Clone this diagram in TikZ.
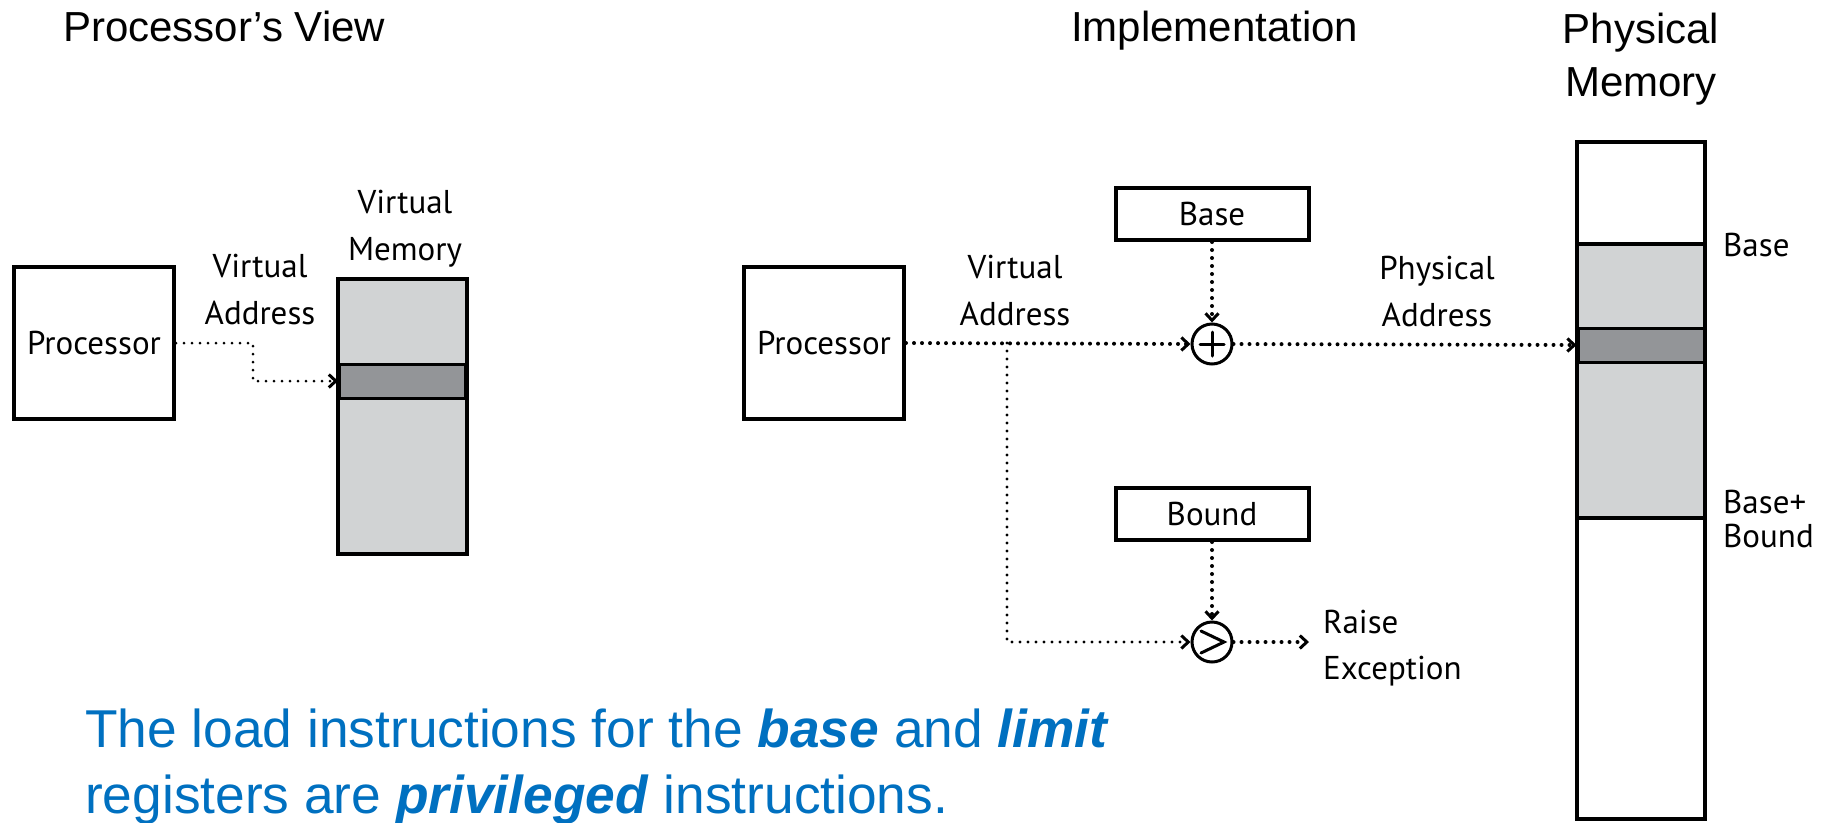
\documentclass[tikz,border=0pt]{standalone}
\usepackage{fontspec}
\setmainfont{PT Sans}
\newfontfamily\slidefont{Liberation Sans}
\usetikzlibrary{arrows.meta}
\usetikzlibrary{positioning}
\definecolor{memlight}{RGB}{209,211,212}
\definecolor{memdark}{RGB}{147,149,152}
\definecolor{slideblue}{RGB}{0,112,192}

\tikzset{
  unit/.style={draw, line width=4pt, minimum width=160pt, minimum height=152pt, inner sep=0pt, font=\fontsize{33}{46}\selectfont},
  reg/.style={draw, line width=4pt, minimum width=193pt, minimum height=52pt, inner sep=0pt, font=\fontsize{33}{46}\selectfont},
  slot/.style={draw, fill=memdark, line width=3pt, minimum width=126pt, minimum height=34pt, inner sep=0pt},
  op/.style={circle, draw, line width=3pt, minimum size=40pt, inner sep=0pt},
  sign/.style={line width=3pt, line cap=round},
  lbl/.style={align=center, inner sep=0pt, font=\fontsize{33}{47}\selectfont},
  side/.style={align=left, inner sep=0pt, font=\fontsize{33}{34}\selectfont},
  heading/.style={align=center, inner sep=0pt, font=\slidefont\fontsize{42}{53}\selectfont},
  flow/.style={line width=4pt, dash pattern=on 0pt off 8pt, line cap=round,
    -{Straight Barb[length=7pt,width=13pt,line width=3pt]}},
}

\begin{document}
\begin{tikzpicture}[x=1pt, y=-1pt]
    \useasboundingbox (0,0) rectangle (1822,822);

    % Ueberschriften
    \node[heading, anchor=base west] (hview) at (63,41) {Processor’s View};
    \node[heading, anchor=base west] (himpl) at (1071,41) {Implementation};
    \node[heading] (hphys) at (1641,59) {Physical\\Memory};

    % linke Seite: Sicht des Prozessors
    \node[unit] (cpuA) at (94,343) {Processor};
    \filldraw[memlight, draw=black, line width=4pt] (338,279) rectangle (467,554);
    \node[slot] (vslot) at (402.5,381) {};
    \node[lbl] (vmlbl) at (405,229) {Virtual\\Memory};
    \node[lbl] (valbl) at (260,290) {Virtual\\Address};
    \draw[flow, line width=3pt] (cpuA.east) -- ++(77,0) |- (vslot.west);

    % rechte Seite: Umsetzung mit Basis und Grenze
    \node[unit] (cpuB) at (824,343) {Processor};
    \node[reg] (base) at (1212,214) {Base};
    \node[op] (plus) at (1212,344) {};
    \draw[sign] ([xshift=-12pt]plus.center) -- ([xshift=12pt]plus.center)
                ([yshift=-12pt]plus.center) -- ([yshift=12pt]plus.center);
    \node[reg] (bound) at (1212,514) {Bound};
    \node[op] (gt) at (1212,642) {};
    \draw[sign] ([xshift=-11pt,yshift=11pt]gt.center) -- ([xshift=12pt]gt.center)
                -- ([xshift=-11pt,yshift=-11pt]gt.center);
    \node[lbl] (valbl2) at (1015,291) {Virtual\\Address};
    \node[lbl] (palbl) at (1437,292) {Physical\\Address};
    \node[side, anchor=west, inner xsep=14pt, font=\fontsize{33}{46}\selectfont] (raise) at (1309,648) {Raise\\Exception};
    \coordinate (split) at (1007,343);

    % physischer Speicher
    \draw[line width=4pt] (1577,142) rectangle (1705,819);
    \filldraw[memlight, draw=black, line width=4pt] (1577,244) rectangle (1705,518);
    \node[slot] (pslot) at (1641,345) {};
    \node[side, anchor=base west] (lbase) at (1723,256) {Base};
    \node[side, anchor=west] (lbb) at (1723,519) {Base+\\Bound};

    % Verbindungen
    \draw[flow] (cpuB.east) -- (plus.west);
    \draw[flow] (base.south) -- (plus.north);
    \draw[flow] (plus.east) -- (pslot.west);
    \draw[flow, line width=3.2pt] (split) |- (gt.west);
    \draw[flow] (bound.south) -- (gt.north);
    \draw[flow] (gt.east) -- (gt.east -| raise.west);

    % Hinweis unten
    \node[anchor=base west, inner sep=0pt, text=slideblue, font=\slidefont\fontsize{53.3}{66}\selectfont] (note1) at (85,747)
      {The load instructions for the \textbf{\textit{base}} and \textbf{\textit{limit}}};
    \node[anchor=base west, inner sep=0pt, text=slideblue, font=\slidefont\fontsize{53.3}{66}\selectfont] (note2) at (85,813)
      {registers are \textbf{\textit{privileged}} instructions.};
\end{tikzpicture}
\end{document}
